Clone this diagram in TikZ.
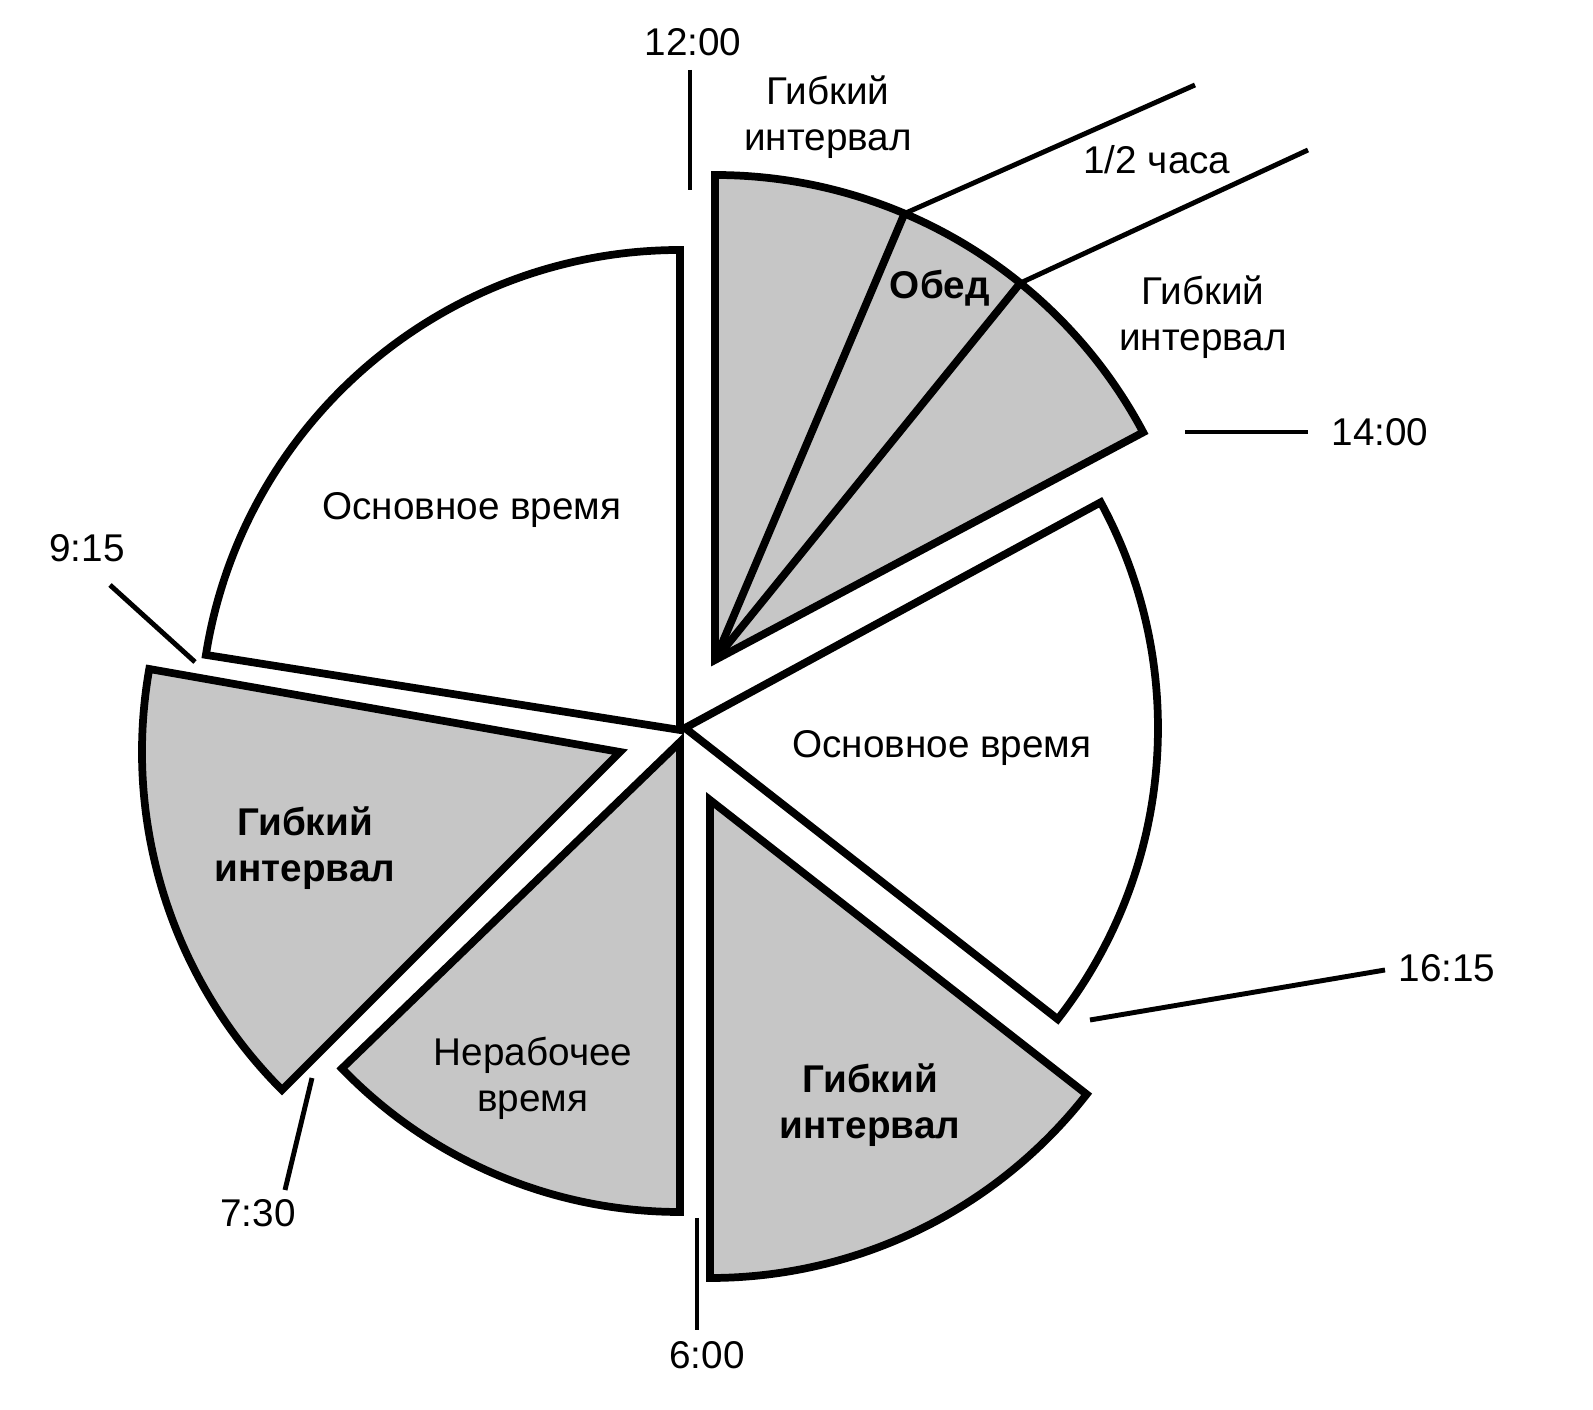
\documentclass[tikz,border=0pt]{standalone}
\usepackage{fontspec}
\setmainfont{Liberation Sans}
\begin{document}
\begin{tikzpicture}[x=0.01cm,y=-0.01cm,
  wedge/.style={draw=black,line width=2.2pt,line join=miter},
  shaded/.style={wedge,fill=gray!45},
  plain/.style={wedge,fill=white},
  tick/.style={line width=1.4pt},
  lbl/.style={font=\fontsize{11}{13}\selectfont,align=center,inner sep=1pt}]
\useasboundingbox (0,0) rectangle (1593,1410);
% wedges
\draw[plain] (680,730) -- ++(-90:480) arc[start angle=-90,end angle=-171,radius=480] -- cycle;
\draw[shaded] (715,660) coordinate (c2) -- ++(-90:485) arc[start angle=-90,end angle=-28,radius=485] -- cycle;
\draw[wedge] (c2) -- ++(-67:485) coordinate (p67);
\draw[wedge] (c2) -- ++(-51:485) coordinate (p51);
\draw[plain] (685,728) -- ++(-28.5:473) arc[start angle=-28.5,end angle=38,radius=473] -- cycle;
\draw[shaded] (710,800) -- ++(90:478) arc[start angle=90,end angle=38,radius=478] -- cycle;
\draw[shaded] (680,742) -- ++(136:470) arc[start angle=136,end angle=90,radius=470] -- cycle;
\draw[shaded] (620,752) -- ++(-170:478) arc[start angle=-170,end angle=-225,radius=478] -- cycle;
% labels in wedges
\node[lbl] (o1) at (472,510) {Основное время};
\node[lbl] (o2) at (942,748) {Основное время};
\node[lbl,font=\fontsize{11}{13}\selectfont\bfseries] (g1) at (305,848) {Гибкий\\интервал};
\node[lbl] (n1) at (533,1078) {Нерабочее\\время};
\node[lbl,font=\fontsize{11}{13}\selectfont\bfseries] (g2) at (870,1105) {Гибкий\\интервал};
\node[lbl,font=\fontsize{11}{13}\selectfont\bfseries] (ob) at (940,288) {Обед};
% outside labels
\node[lbl] (g3) at (828,117) {Гибкий\\интервал};
\node[lbl] (g4) at (1203,317) {Гибкий\\интервал};
\node[lbl] (half) at (1157,160) {1/2 часа};
\node[lbl] (t12) at (693,42) {12:00};
\node[lbl] (t14) at (1380,432) {14:00};
\node[lbl] (t1615) at (1447,968) {16:15};
\node[lbl] (t6) at (707,1355) {6:00};
\node[lbl] (t730) at (258,1213) {7:30};
\node[lbl] (t915) at (87,548) {9:15};
% ticks
\coordinate (e1) at (1195,85); \coordinate (e2) at (1308,150);
\draw[tick] (p67) -- (e1);
\draw[tick] (p51) -- (e2);
\coordinate (a12) at (690,70); \coordinate (b12) at (690,190);
\draw[tick] (a12) -- (b12);
\coordinate (a14) at (1185,432); \coordinate (b14) at (1308,432);
\draw[tick] (a14) -- (b14);
\coordinate (a16) at (1090,1020); \coordinate (b16) at (1385,970);
\draw[tick] (a16) -- (b16);
\coordinate (a6) at (697,1218); \coordinate (b6) at (697,1330);
\draw[tick] (a6) -- (b6);
\coordinate (a7) at (312,1078); \coordinate (b7) at (285,1190);
\draw[tick] (a7) -- (b7);
\coordinate (a9) at (110,585); \coordinate (b9) at (195,662);
\draw[tick] (a9) -- (b9);
\end{tikzpicture}
\end{document}
